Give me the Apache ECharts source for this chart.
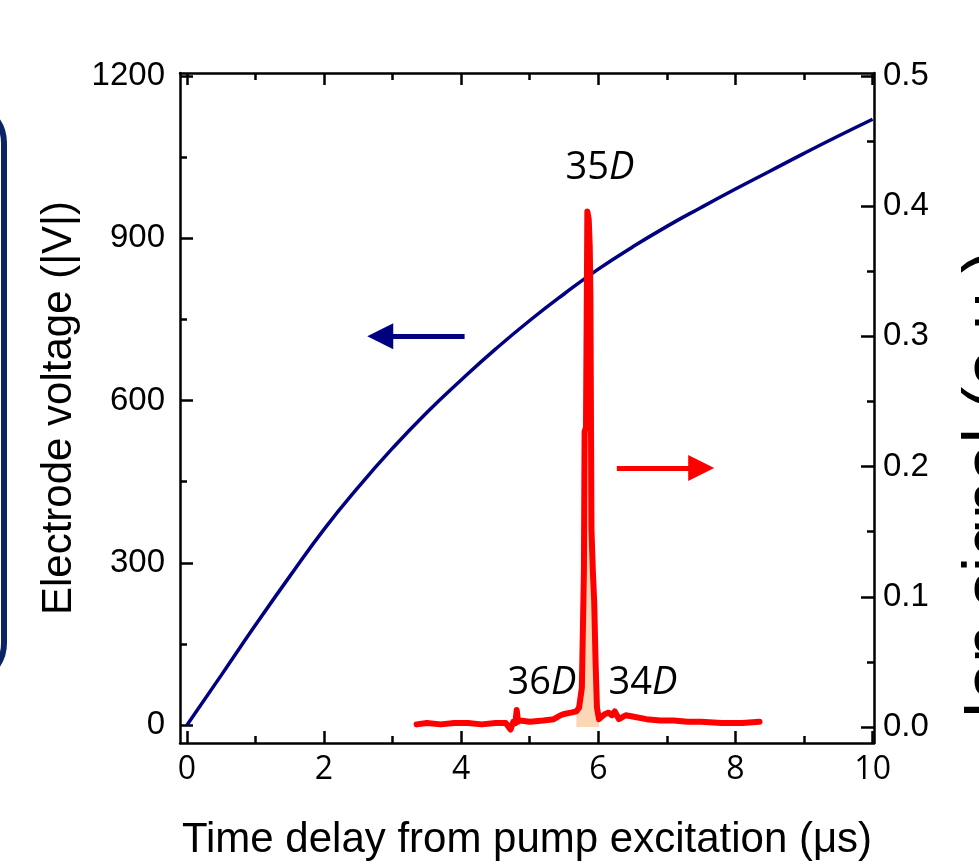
<!DOCTYPE html>
<html>
<head>
	<meta http-equiv="Content-Type" content="text/html;charset=utf-8">
	<title>Electrode voltage and ion signal</title>
	<style>
		html, body{
			margin: 0;
			padding: 0;
			background: #fff;
		}
		#chart{
			width: 979px;
			height: 864px;
		}
	</style>
</head>

<body>
<div id="chart"></div>

<script src="https://cdn.jsdelivr.net/npm/echarts@6/dist/echarts.min.js"></script>
<script>
	// electrode voltage (left axis)
	var voltTime = [0, 0.5, 1, 1.5, 2, 2.5, 3, 3.5, 4, 4.5, 5, 5.5, 6, 6.5, 7, 7.5, 8, 8.5, 9, 9.5, 10];
	var voltValue = [0, 92, 185, 275, 362, 440, 512, 578, 638, 695, 748, 797, 843, 884, 922, 957, 991, 1024, 1057, 1089, 1120];

	// ion signal (right axis)
	var ionTime = [3.35, 3.5, 3.7, 3.9, 4.1, 4.3, 4.5, 4.65, 4.72, 4.76, 4.79, 4.81, 4.83, 4.86, 5.0, 5.2, 5.35, 5.45, 5.5, 5.6, 5.68,
		5.72, 5.76, 5.79, 5.80, 5.82, 5.84, 5.86, 5.875, 5.885, 5.90, 5.92, 5.94, 5.96, 5.98, 6.01,
		6.05, 6.1, 6.15, 6.2, 6.24, 6.3, 6.4, 6.5, 6.7, 6.9, 7.1, 7.3, 7.5, 7.8, 8.1, 8.35];
	var ionValue = [0.002, 0.003, 0.002, 0.003, 0.003, 0.002, 0.003, 0.003, -0.002, 0.004, 0.003, 0.013, 0.004, 0.005, 0.004, 0.005, 0.006, 0.009, 0.010, 0.011, 0.012,
		0.015, 0.03, 0.12, 0.227, 0.23, 0.396, 0.39, 0.369, 0.33, 0.152, 0.12, 0.096, 0.05, 0.015, 0.006,
		0.008, 0.010, 0.011, 0.009, 0.012, 0.006, 0.009, 0.008, 0.006, 0.005, 0.005, 0.004, 0.004, 0.003, 0.003, 0.004];
	// shaded part under the 35D peak
	var peakFrom = 5.68, peakTo = 6.02;

	// tick labels
	var xTicks = [0, 2, 4, 6, 8, 10];
	var xMinor = [1, 3, 5, 7, 9];
	var voltTicks = [0, 300, 600, 900, 1200];
	var voltMinor = [150, 450, 750, 1050];
	var ionTicks = [0, 0.1, 0.2, 0.3, 0.4, 0.5];
	var ionMinor = [0.05, 0.15, 0.25, 0.35, 0.45];

	var X_MIN = -0.1, X_MAX = 10.02;
	var V_MIN = -33, V_MAX = 1205.5;
	var I_MIN = -0.0123, I_MAX = 0.5023;

	var voltData = voltTime.map(function (t, i) { return [t, voltValue[i]]; });
	var ionData = ionTime.map(function (t, i) { return [t, ionValue[i]]; });
	var peakData = ionData.filter(function (p) { return p[0] >= peakFrom && p[0] <= peakTo; });

	var black = '#000';

	function xAx(pos, ticks, len, withLine, withLabel) {
		return {
			type: 'value', position: pos, min: X_MIN, max: X_MAX,
			axisLine: {show: withLine, onZero: false, lineStyle: {color: black, width: 2.5}},
			axisTick: {show: true, inside: true, length: len, customValues: ticks, lineStyle: {color: black, width: 2.5}},
			axisLabel: withLabel ? {
				show: true, customValues: xTicks, margin: 11, color: black,
				fontFamily: 'Open Sans', fontSize: 32
			} : {show: false},
			splitLine: {show: false}
		};
	}

	function yAx(pos, min, max, ticks, len, withLine, labels, fmt, margin) {
		return {
			type: 'value', position: pos, min: min, max: max,
			axisLine: {show: withLine, onZero: false, lineStyle: {color: black, width: 2.5}},
			axisTick: {show: true, inside: true, length: len, customValues: ticks, lineStyle: {color: black, width: 2.5}},
			axisLabel: labels ? {
				show: true, customValues: labels, margin: margin, color: black,
				fontFamily: 'Liberation Sans', fontSize: 33, formatter: fmt
			} : {show: false},
			splitLine: {show: false}
		};
	}

	var xBottom = xAx('bottom', xTicks, 12, true, true);
	xBottom.name = 'Time delay from pump excitation (\u03bcs)';
	xBottom.nameLocation = 'middle';
	xBottom.nameGap = 76;
	xBottom.nameTextStyle = {fontFamily: 'Liberation Sans', fontSize: 42, color: black};

	var yLeft = yAx('left', V_MIN, V_MAX, voltTicks, 13, true, voltTicks, function (v) { return String(v); }, 15);
	yLeft.name = 'Electrode voltage (|V|)';
	yLeft.nameLocation = 'middle';
	yLeft.nameRotate = 90;
	yLeft.nameGap = 100;
	yLeft.nameTextStyle = {fontFamily: 'Liberation Sans', fontSize: 42, color: black};

	var yRight = yAx('right', I_MIN, I_MAX, ionTicks, 13, true, ionTicks, function (v) { return v.toFixed(1); }, 9);

	var option = {
		animation: false,
		backgroundColor: '#fff',
		grid: {left: 180, right: 105, top: 73, bottom: 121, containLabel: false, outerBoundsMode: 'none'},
		xAxis: [
			xBottom,
			xAx('bottom', xMinor, 7, false, false),
			xAx('top', xTicks, 12, true, false),
			xAx('top', xMinor, 7, false, false)
		],
		yAxis: [
			yLeft,
			yRight,
			yAx('left', V_MIN, V_MAX, voltMinor, 7, false, null),
			yAx('right', I_MIN, I_MAX, ionMinor, 7, false, null)
		],
		series: [
			{
				name: 'voltage',
				type: 'line',
				xAxisIndex: 0,
				yAxisIndex: 0,
				data: voltData,
				smooth: true,
				showSymbol: false,
				z: 3,
				lineStyle: {color: '#000080', width: 3.5},
				markLine: {
					silent: true,
					symbol: ['none', 'triangle'],
					symbolSize: [26, 26],
					label: {show: false},
					lineStyle: {color: '#000080', width: 5, type: 'solid'},
					data: [[{coord: [4.05, 719]}, {coord: [2.82, 719]}]]
				}
			},
			{
				name: 'peak fill',
				type: 'line',
				xAxisIndex: 0,
				yAxisIndex: 1,
				data: peakData,
				showSymbol: false,
				z: 4,
				lineStyle: {width: 0},
				areaStyle: {color: '#fcd7b6', opacity: 1}
			},
			{
				name: 'ion signal',
				type: 'line',
				xAxisIndex: 0,
				yAxisIndex: 1,
				data: ionData,
				showSymbol: false,
				z: 5,
				lineStyle: {color: '#ff0000', width: 6, join: 'round', cap: 'round'},
				markLine: {
					silent: true,
					symbol: ['none', 'triangle'],
					symbolSize: [26, 26],
					label: {show: false},
					lineStyle: {color: '#ff0000', width: 5, type: 'solid'},
					data: [[{coord: [6.27, 0.199]}, {coord: [7.5, 0.199]}]]
				}
			}
		],
		graphic: [
			{
				type: 'rect',
				shape: {x: -400, y: 103, width: 404, height: 580, r: 40},
				style: {fill: 'none', stroke: '#0b2462', lineWidth: 6},
				silent: true
			},
			{
				type: 'text',
				x: 958, y: 485,
				rotation: Math.PI / 2,
				style: {
					text: 'Ion signal (a.u.)',
					font: '68px "Liberation Sans"',
					fill: black,
					align: 'center',
					verticalAlign: 'top'
				},
				silent: true
			},
			{
				type: 'text', x: 600, y: 168,
				style: {
					text: '{n|35}{i|D}',
					align: 'center', verticalAlign: 'middle',
					rich: {
						n: {fontFamily: 'Open Sans', fontSize: 38, fill: black},
						i: {fontFamily: 'Open Sans', fontSize: 38, fontStyle: 'italic', fill: black}
					}
				}
			},
			{
				type: 'text', x: 542, y: 683,
				style: {
					text: '{n|36}{i|D}',
					align: 'center', verticalAlign: 'middle',
					rich: {
						n: {fontFamily: 'Open Sans', fontSize: 38, fill: black},
						i: {fontFamily: 'Open Sans', fontSize: 38, fontStyle: 'italic', fill: black}
					}
				}
			},
			{
				type: 'text', x: 643, y: 683,
				style: {
					text: '{n|34}{i|D}',
					align: 'center', verticalAlign: 'middle',
					rich: {
						n: {fontFamily: 'Open Sans', fontSize: 38, fill: black},
						i: {fontFamily: 'Open Sans', fontSize: 38, fontStyle: 'italic', fill: black}
					}
				}
			}
		]
	};

	var myChart = echarts.init(document.getElementById('chart'));
	myChart.setOption(option);
</script>
</body>
</html>
